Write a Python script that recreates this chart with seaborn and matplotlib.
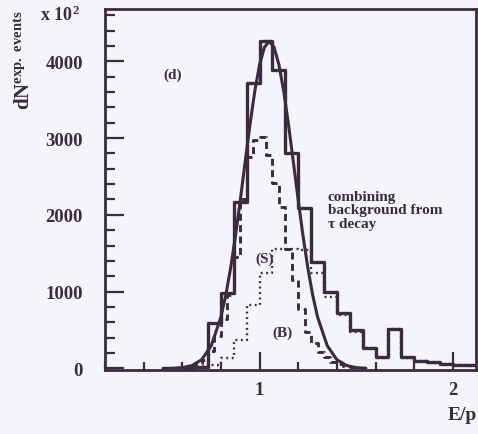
import numpy as np
import pandas as pd
import matplotlib
matplotlib.use("Agg")
import matplotlib.pyplot as plt
import seaborn as sns
from matplotlib.ticker import MultipleLocator, FixedLocator

# ---------------- data ----------------
coarse_start = 0.6
coarse_width = 1 / 15
combined_counts = [5, 20, 587, 980, 2170, 3715, 4263, 3890, 2800, 2086, 1391, 990,
                   720, 500, 270, 150, 520, 150, 100, 80, 60, 50, 40]
signal_counts = [0, 15, 40, 130, 370, 825, 1240, 1560, 1560, 1540, 1240, 930,
                 690, 480, 260, 140, 510, 140, 95, 75, 55, 45, 35]
fine_start = 0.6
fine_width = 1 / 30
background_counts = [20, 30, 60, 110, 230, 420, 640, 950, 1450, 2200, 2750, 2980,
                     3020, 2780, 2420, 2100, 1550, 1150, 780, 480, 330, 220, 150,
                     90, 60, 30, 20]
fit_x = [0.50, 0.55, 0.60, 0.65, 0.70, 0.75, 0.80, 0.825, 0.85, 0.875, 0.90, 0.925,
         0.95, 0.975, 1.00, 1.025, 1.05, 1.075, 1.10, 1.125, 1.15, 1.175, 1.20,
         1.225, 1.25, 1.275, 1.30, 1.35, 1.40, 1.45, 1.50, 1.55]
fit_y = [1, 3, 11, 38, 114, 297, 671, 953, 1305, 1721, 2189, 2683,
         3169, 3607, 3956, 4182, 4260, 4182, 3956, 3607, 3169, 2683, 2189,
         1721, 1305, 953, 671, 297, 114, 38, 11, 3]
y_ticks = [0, 1000, 2000, 3000, 4000]
y_tick_labels = ["0", "1000", "2000", "3000", "4000"]
x_ticks = [1, 2]
x_tick_labels = ["1", "2"]

# ---------------- style ----------------
sns.set_style("ticks")
INK = "#3a2c3e"
BG = "#f4f5fa"
plt.rcParams["font.family"] = ["Liberation Serif", "DejaVu Serif"]
plt.rcParams["font.weight"] = "bold"
plt.rcParams["mathtext.fontset"] = "custom"
plt.rcParams["mathtext.rm"] = "Liberation Serif:bold"
plt.rcParams["mathtext.it"] = "Liberation Serif:bold"
plt.rcParams["mathtext.bf"] = "Liberation Serif:bold"

W, H = 478, 435
fig = plt.figure(figsize=(W / 100, H / 100), dpi=100, facecolor=BG)
ax = fig.add_axes([105 / W, (H - 371) / H, 371 / W, 361 / H], facecolor=BG)


def hist_frame(start, width, counts):
    n = len(counts)
    edges = [float(start + width * i) for i in range(n + 1)]
    centers = [e + width / 2 for e in edges[:-1]]
    return pd.DataFrame({"x": centers, "w": [float(c) for c in counts]}), edges


df_c, e_c = hist_frame(coarse_start, coarse_width, combined_counts)
df_s, e_s = hist_frame(coarse_start, coarse_width, signal_counts)
df_b, e_b = hist_frame(fine_start, fine_width, background_counts)

sns.histplot(data=df_s, x="x", weights="w", bins=e_s, element="step", fill=False,
             color=INK, linewidth=1.7, linestyle=(0, (0.8, 1.5)), ax=ax)
sns.histplot(data=df_b, x="x", weights="w", bins=e_b, element="step", fill=False,
             color=INK, linewidth=2.1, linestyle=(0, (2.4, 1.5)), ax=ax)
sns.histplot(data=df_c, x="x", weights="w", bins=e_c, element="step", fill=False,
             color=INK, linewidth=2.4, ax=ax)
sns.lineplot(x=fit_x, y=fit_y, color=INK, linewidth=2.2, ax=ax)

ax.set_xlim(0.2, 2.12)
ax.set_ylim(-20, 4680)
ax.set_xlabel("")
ax.set_ylabel("")

ax.xaxis.set_major_locator(FixedLocator(x_ticks))
ax.set_xticklabels(x_tick_labels)
ax.xaxis.set_minor_locator(MultipleLocator(0.2))
ax.yaxis.set_major_locator(FixedLocator(y_ticks))
ax.set_yticklabels(y_tick_labels)
ax.yaxis.set_minor_locator(MultipleLocator(200))

ax.tick_params(axis="both", which="both", direction="in", color=INK,
               labelcolor=INK, top=False, right=False)
ax.tick_params(axis="y", which="major", length=14, width=1.6, pad=16, labelsize=13.5)
ax.tick_params(axis="y", which="minor", length=7, width=1.6)
ax.tick_params(axis="x", which="major", length=13, width=1.6, pad=8, labelsize=13.5)
ax.tick_params(axis="x", which="minor", length=6, width=1.6)
for lab in ax.get_xticklabels() + ax.get_yticklabels():
    lab.set_fontweight("bold")

for s in ax.spines.values():
    s.set_color(INK)
    s.set_linewidth(2.0)


def px(x, y):
    return x / W, 1 - y / H


fig.text(*px(25, 60), r"$\mathrm{dN^{exp.\ events}}$", rotation=90, fontsize=15,
         color=INK, ha="center", va="center")
fig.text(*px(40, 15), r"$\mathrm{x\ 10^{2}}$", fontsize=13, color=INK,
         ha="left", va="center")
fig.text(*px(163, 75), "(d)", fontsize=11, color=INK, ha="left", va="center",
         fontweight="bold")
fig.text(*px(328, 211), "combining\nbackground from\n\u03c4 decay", fontsize=11,
         color=INK, ha="left", va="center", linespacing=1.05, fontweight="bold")
fig.text(*px(265, 259), "(S)", fontsize=11, color=INK, ha="center", va="center",
         fontweight="bold")
fig.text(*px(282, 333), "(B)", fontsize=11, color=INK, ha="center", va="center",
         fontweight="bold")
fig.text(*px(477, 416), "E/p", fontsize=14, color=INK, ha="right", va="center",
         fontweight="bold")

fig.savefig("out.png", dpi=100, facecolor=BG)
